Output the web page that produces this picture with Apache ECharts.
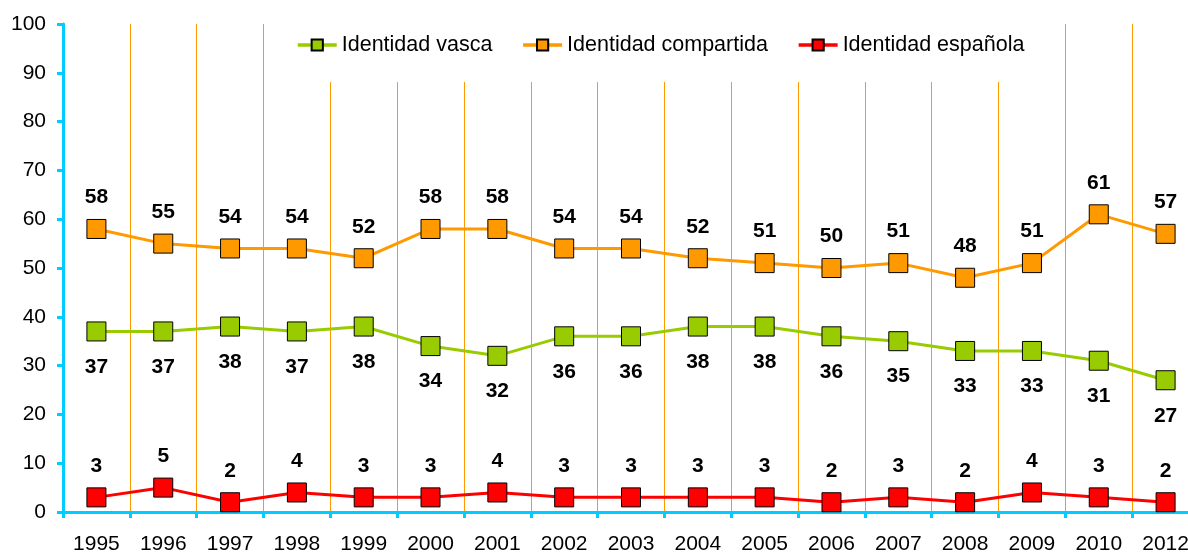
<!DOCTYPE html>
<html>
<head>
<meta charset="utf-8">
<script src="https://cdn.jsdelivr.net/npm/echarts@6/dist/echarts.min.js"></script>
<style>
    html, body { margin: 0; padding: 0; background: #fff; }
    #chart { width: 1188px; height: 554px; }
</style>
</head>
<body>
<div id="chart"></div>
<script>
const years = ['1995', '1996', '1997', '1998', '1999', '2000', '2001', '2002', '2003',
    '2004', '2005', '2006', '2007', '2008', '2009', '2010', '2012']
const vasca = [37, 37, 38, 37, 38, 34, 32, 36, 36, 38, 38, 36, 35, 33, 33, 31, 27]
const compartida = [58, 55, 54, 54, 52, 58, 58, 54, 54, 52, 51, 50, 51, 48, 51, 61, 57]
const espanola = [3, 5, 2, 4, 3, 3, 4, 3, 3, 3, 3, 2, 3, 2, 4, 3, 2]

const font = "'Liberation Sans', Arial, sans-serif"
const blue = '#00CCFF'

function serie(name, data, color, pos, dist) {
    return {
        name: name,
        type: 'line',
        data: data,
        symbol: 'rect',
        symbolSize: 19,
        lineStyle: { color: color, width: 3 },
        itemStyle: { color: color, borderColor: '#000', borderWidth: 1 },
        label: {
            show: true,
            position: pos,
            distance: dist,
            color: '#000',
            fontFamily: font,
            fontWeight: 'bold',
            fontSize: 21
        }
    }
}

const chart = echarts.init(document.getElementById('chart'))
chart.setOption({
    animation: false,
    textStyle: { fontFamily: font },
    // the last band runs past the right edge of the picture
    grid: { left: 63, top: 24, bottom: 42, right: -11, outerBoundsMode: 'none' },
    legend: {
        left: 291,
        top: 24,
        padding: [10, 5, 26, 5],
        backgroundColor: '#fff',
        itemWidth: 39,
        itemHeight: 14,
        itemGap: 29,
        lineStyle: { width: 3.5 },
        textStyle: { fontSize: 21.5, color: '#000', fontFamily: font },
        data: ['Identidad vasca', 'Identidad compartida', 'Identidad española']
    },
    xAxis: {
        type: 'category',
        data: years,
        boundaryGap: true,
        axisLine: { lineStyle: { color: blue, width: 3 } },
        axisTick: { show: true, length: 6, lineStyle: { color: blue, width: 3 } },
        axisLabel: { color: '#000', fontSize: 21, margin: 22, fontFamily: font },
        splitLine: { show: true, lineStyle: { color: '#FF9900', width: 1 } }
    },
    yAxis: {
        type: 'value',
        min: 0,
        max: 100,
        interval: 10,
        axisLine: { show: true, lineStyle: { color: blue, width: 3 } },
        axisTick: { show: true, length: 6, lineStyle: { color: blue, width: 3 } },
        axisLabel: { color: '#000', fontSize: 21, margin: 17, fontFamily: font },
        splitLine: { show: false }
    },
    series: [
        serie('Identidad vasca', vasca, '#99CC00', 'bottom', 15),
        serie('Identidad compartida', compartida, '#FF9900', 'top', 11),
        serie('Identidad española', espanola, '#FF0000', 'top', 11)
    ]
})
</script>
</body>
</html>
